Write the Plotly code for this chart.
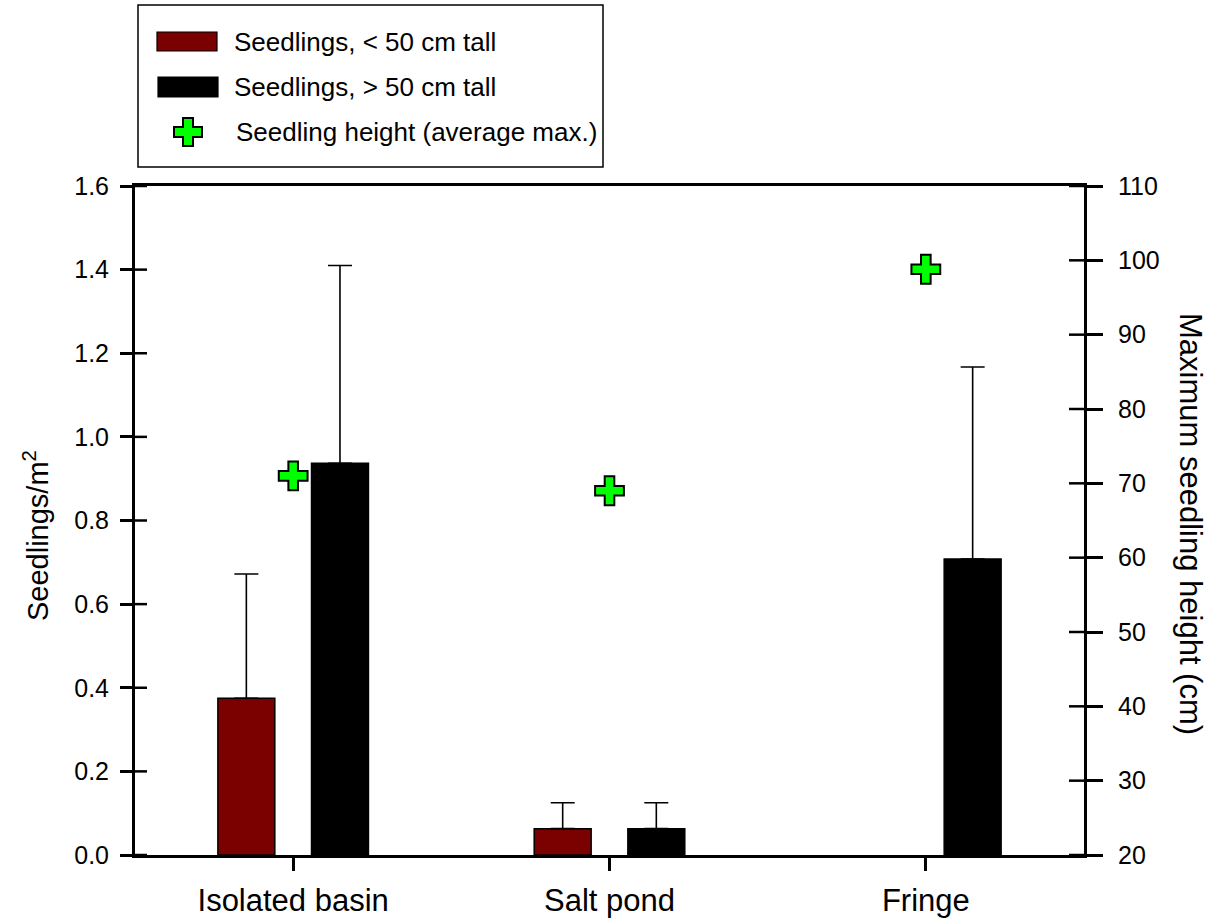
import plotly.graph_objects as go

# ---------------- data ----------------
categories = ["Isolated basin", "Salt pond", "Fringe"]
short_vals = [0.375, 0.063, 0.0]          # Seedlings, < 50 cm tall (per m2)
short_err = [0.297, 0.062, 0.0]
tall_vals = [0.937, 0.063, 0.708]         # Seedlings, > 50 cm tall (per m2)
tall_err = [0.473, 0.062, 0.459]
height_vals = [71.0, 69.0, 98.8]          # Seedling height (average max.), cm

left_ticks = [0.0, 0.2, 0.4, 0.6, 0.8, 1.0, 1.2, 1.4, 1.6]
right_ticks = [20, 30, 40, 50, 60, 70, 80, 90, 100, 110]

legend_labels = ["Seedlings, < 50 cm tall", "Seedlings, > 50 cm tall",
                 "Seedling height (average max.)"]

# ---------------- styles ----------------
W, H = 1211, 919
ML, MR, MT, MB = 135, 127, 186, 64
PW, PH = W - ML - MR, H - MT - MB
FONT = "Arial, Liberation Sans, sans-serif"
RED = "#7b0000"
GREEN = "#00ff00"


def px(x):
    return (x - ML) / PW


def py(y):
    return (H - MB - y) / PH


def shown(vals):
    # a zero bar is not drawn at all
    return [v if v > 0 else None for v in vals]


def shown_err(vals, errs):
    return [e if v > 0 else None for v, e in zip(vals, errs)]


fig = go.Figure()

fig.add_trace(go.Bar(
    x=categories, y=shown(short_vals), name=legend_labels[0],
    width=0.18, offset=-0.238,
    marker=dict(color=RED, line=dict(color="black", width=1.5)),
    error_y=dict(type="data", array=shown_err(short_vals, short_err),
                 symmetric=False, arrayminus=[0] * len(short_err),
                 color="black", thickness=1.6, width=12),
    showlegend=False,
))
fig.add_trace(go.Bar(
    x=categories, y=shown(tall_vals), name=legend_labels[1],
    width=0.18, offset=0.058,
    marker=dict(color="black", line=dict(color="black", width=1.5)),
    error_y=dict(type="data", array=shown_err(tall_vals, tall_err),
                 symmetric=False, arrayminus=[0] * len(tall_err),
                 color="black", thickness=1.6, width=12),
    showlegend=False,
))
fig.add_trace(go.Scatter(
    x=categories, y=height_vals, yaxis="y2", mode="markers",
    name=legend_labels[2],
    marker=dict(symbol="cross", size=24, color=GREEN,
                line=dict(color="black", width=2)),
    showlegend=False,
))

axis_common = dict(showline=True, linecolor="black", linewidth=3,
                   ticks="outside", tickcolor="black", tickwidth=2.5,
                   showgrid=False, zeroline=False, automargin=False,
                   tickfont=dict(family=FONT, size=25, color="black"))

fig.update_layout(
    width=W, height=H,
    margin=dict(l=ML, r=MR, t=MT, b=MB, pad=0, autoexpand=False),
    paper_bgcolor="white", plot_bgcolor="white",
    barmode="overlay",
    showlegend=False,
    xaxis=dict(showline=True, linecolor="black", linewidth=3, mirror=True,
               ticks="outside", ticklen=13, tickcolor="black", tickwidth=2.5,
               showgrid=False, zeroline=False, range=[-0.5, 2.5],
               automargin=False, ticklabelstandoff=3,
               tickfont=dict(family=FONT, size=31, color="black")),
    yaxis=dict(range=[0, 1.6], tickvals=left_ticks, tickformat=".1f",
               ticklen=12, ticklabelstandoff=6, **axis_common),
    yaxis2=dict(range=[20, 110], tickvals=right_ticks, overlaying="y",
                side="right", ticklen=16, ticklabelstandoff=10,
                **axis_common),
)

shapes = []
# inside halves of the crossing ticks
for v in left_ticks:
    shapes.append(dict(type="line", xref="paper", yref="y",
                       x0=0, x1=12 / PW, y0=v, y1=v,
                       line=dict(color="black", width=2.5)))
for v in right_ticks:
    shapes.append(dict(type="line", xref="paper", yref="y2",
                       x0=1 - 15 / PW, x1=1, y0=v, y1=v,
                       line=dict(color="black", width=2.5)))

# legend box
shapes.append(dict(type="rect", xref="paper", yref="paper",
                   x0=px(138), x1=px(603), y0=py(167), y1=py(5),
                   line=dict(color="black", width=1.5), fillcolor="white"))
shapes.append(dict(type="rect", xref="paper", yref="paper",
                   x0=px(157), x1=px(217), y0=py(51), y1=py(32),
                   line=dict(color="black", width=1.2), fillcolor=RED))
shapes.append(dict(type="rect", xref="paper", yref="paper",
                   x0=px(158), x1=px(218), y0=py(97), y1=py(77),
                   line=dict(color="black", width=1.2), fillcolor="black"))
# legend cross
cx, cy, a, t = 188, 132, 14, 5
pts = [(cx - t, cy - a), (cx + t, cy - a), (cx + t, cy - t), (cx + a, cy - t),
       (cx + a, cy + t), (cx + t, cy + t), (cx + t, cy + a), (cx - t, cy + a),
       (cx - t, cy + t), (cx - a, cy + t), (cx - a, cy - t), (cx - t, cy - t)]
path = "M " + " L ".join(f"{px(x):.5f},{py(y):.5f}" for x, y in pts) + " Z"
shapes.append(dict(type="path", xref="paper", yref="paper", path=path,
                   fillcolor=GREEN, line=dict(color="black", width=2)))
fig.update_layout(shapes=shapes)

annotations = []
for lbl, yy, xx in zip(legend_labels, [42, 87, 132], [232, 232, 234]):
    annotations.append(dict(text=lbl, xref="paper", yref="paper",
                            x=px(xx), y=py(yy), xanchor="left",
                            yanchor="middle", showarrow=False,
                            font=dict(family=FONT, size=26, color="black")))
annotations.append(dict(text="Seedlings/m<sup>2</sup>", xref="paper",
                        yref="paper", x=px(36), y=py(536), textangle=-90,
                        xanchor="center", yanchor="middle", showarrow=False,
                        font=dict(family=FONT, size=29, color="black")))
annotations.append(dict(text="Maximum seedling height (cm)", xref="paper",
                        yref="paper", x=px(1191), y=py(524), textangle=90,
                        xanchor="center", yanchor="middle", showarrow=False,
                        font=dict(family=FONT, size=31, color="black")))
fig.update_layout(annotations=annotations)

fig.write_html("out.html")
